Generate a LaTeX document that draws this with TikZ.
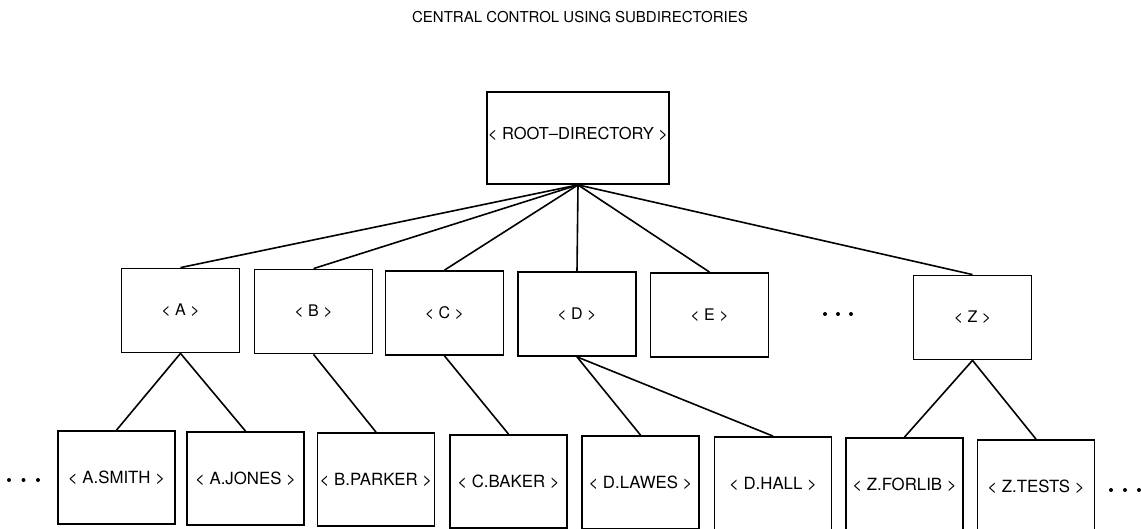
\documentclass[tikz,border=0pt]{standalone}
\usepackage{fontspec}
\setmainfont{TeX Gyre Heros}
\begin{document}
\begin{tikzpicture}[x=1pt,y=-1pt,
  line width=1.8pt,
  dirbox/.style={draw, rectangle, inner sep=0pt, line join=miter},
  rootbox/.style={dirbox, minimum width=182pt, minimum height=92pt, font=\fontsize{16.5}{19}\selectfont},
  midbox/.style={dirbox, minimum width=118pt, minimum height=84pt, font=\fontsize{16}{19}\selectfont},
  leafbox/.style={dirbox, minimum width=117pt, minimum height=93pt, font=\fontsize{16.8}{20}\selectfont},
  link/.style={line width=1.6pt},
  title/.style={font=\fontsize{15}{18}\selectfont, inner sep=0pt}
]
\useasboundingbox (0,0) rectangle (1141,529);
\begin{scope}
\clip (0,0) rectangle (1141,529);

% heading
\node[title] (title) at (580,17) {CENTRAL CONTROL USING SUBDIRECTORIES};

% root directory
\node[rootbox] (root) at (578,138) {};
\node (roottext) at (578,134) [font=\fontsize{16.5}{19}\selectfont] {< ROOT--DIRECTORY >};

% first-level subdirectories
\node[midbox] (a) at (180.5,310.5) {< A >};
\node[midbox] (b) at (313.5,311.5) {< B >};
\node[midbox] (c) at (444.5,313)   {< C >};
\node[midbox] (d) at (577,314)     {< D >};
\node[midbox] (e) at (709.5,315)   {< E >};
\node[midbox] (z) at (972.5,317.5) {< Z >};

% user directories
\node[leafbox] (asmith)  at (116.5,477.5) {< A.SMITH >};
\node[leafbox] (ajones)  at (245.5,478.5) {< A.JONES >};
\node[leafbox] (bparker) at (376,479.5)   {< B.PARKER >};
\node[leafbox] (cbaker)  at (508.5,481.5) {< C.BAKER >};
\node[leafbox] (dlawes)  at (640.5,482.5) {< D.LAWES >};
\node[leafbox] (dhall)   at (773,483.5)   {< D.HALL >};
\node[leafbox] (zforlib) at (904.5,484.5) {< Z.FORLIB >};
\node[leafbox] (ztests)  at (1036,486.5)  {< Z.TESTS >};

% root to subdirectories
\foreach \n in {a,b,c,d,e,z}
  \draw[link] (root.south) -- (\n.north);

% subdirectories to user directories
\draw[link] (a.south) -- (asmith.north);
\draw[link] (a.south) -- (ajones.north);
\draw[link] (b.south) -- (bparker.north);
\draw[link] (c.south) -- (cbaker.north);
\draw[link] (d.south) -- (dlawes.north);
\draw[link] (d.south) -- (dhall.north);
\draw[link] (z.south) -- (zforlib.north);
\draw[link] (z.south) -- (ztests.north);

% ellipses
\foreach \x/\y in {825/314, 838/314, 851/314,
                   9/480, 23.5/480, 38/480,
                   1111/490, 1125/490, 1139/490}
  \fill (\x,\y) circle[radius=2pt];
\end{scope}
\end{tikzpicture}
\end{document}
